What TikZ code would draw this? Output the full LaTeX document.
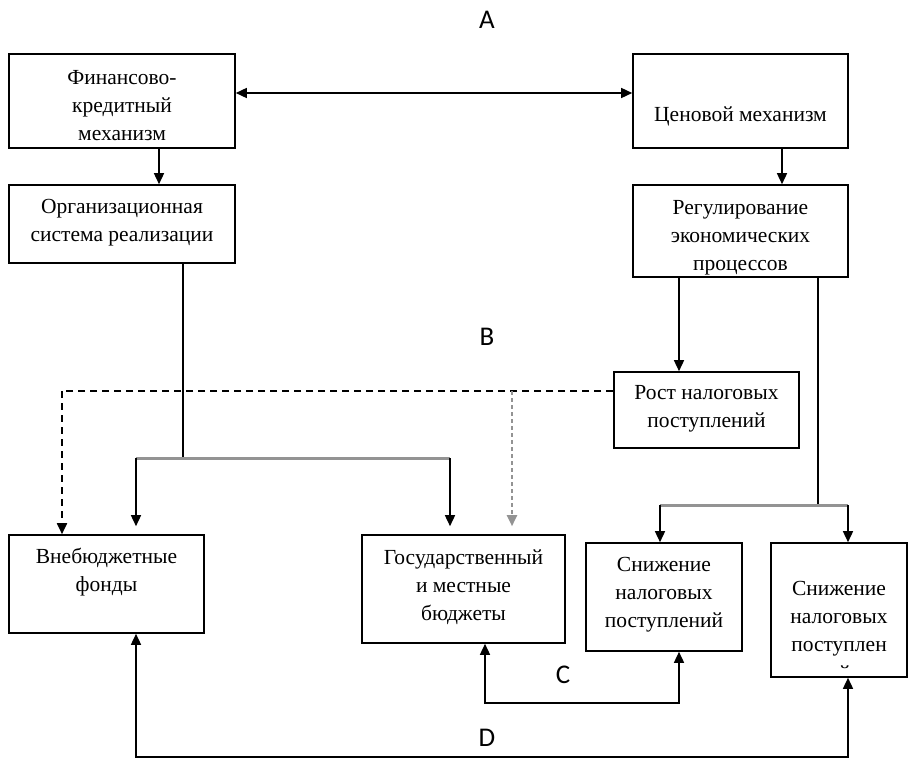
\documentclass[tikz,border=0pt]{standalone}
\usepackage{fontspec}
\setmainfont{Liberation Serif}
\newfontfamily\lettfont{Carlito}
\usetikzlibrary{arrows.meta}
\begin{document}
\begin{tikzpicture}[x=1pt,y=-1pt,
  box/.style={draw, line width=1.6pt, inner sep=0pt},
  txt/.style={align=center, inner sep=0pt, font=\fontsize{21.5}{28}\selectfont},
  lett/.style={inner sep=0pt, font=\lettfont\fontsize{27}{30}\selectfont},
  ln/.style={line width=1.5pt},
  arr/.style={line width=1.5pt, -{Triangle[width=10pt,length=11pt]}},
  arrb/.style={line width=1.5pt, {Triangle[width=10pt,length=11pt]}-{Triangle[width=10pt,length=11pt]}},
  gline/.style={line width=3pt, gray!85},
  dsh/.style={line width=1.8pt, dash pattern=on 7pt off 5pt},
  gdsh/.style={line width=2.2pt, gray!85, dash pattern=on 4pt off 3pt}]
\useasboundingbox (0,0) rectangle (915,765);
% boxes
\node[box, minimum width=226pt, minimum height=94pt] (fin) at (122,101) {};
\node[box, minimum width=226pt, minimum height=78pt] (org) at (122,224) {};
\node[box, minimum width=215pt, minimum height=94pt] (cen) at (740.5,101) {};
\node[box, minimum width=215pt, minimum height=92pt] (reg) at (740.5,231) {};
\node[box, minimum width=185pt, minimum height=76pt] (rost) at (706.5,410) {};
\node[box, minimum width=195pt, minimum height=98pt] (vne) at (106.5,584) {};
\node[box, minimum width=203pt, minimum height=108pt] (gos) at (463.5,589) {};
\node[box, minimum width=156pt, minimum height=108pt] (sn1) at (664,597) {};
\node[box, minimum width=136pt, minimum height=134pt] (sn2) at (839,610) {};
% texts
\node[txt] (tfin) at (122,106) {Финансово-\\кредитный\\механизм};
\node[txt] (torg) at (122,223) {Организационная\\система реализации};
\node[txt] (tcen) at (740.5,116) {Ценовой механизм};
\node[txt] (treg) at (740.5,238) {Регулирование\\экономических\\процессов};
\node[txt] (trost) at (706.5,409) {Рост налоговых\\поступлений};
\node[txt] (tvne) at (106.5,572) {Внебюджетные\\фонды};
\node[txt] (tgos) at (463.5,587) {Государственный\\и местные\\бюджеты};
\node[txt] (tsn1) at (664,595) {Снижение\\налоговых\\поступлений};
\node[txt] (tsn2) at (839,619) {Снижение\\налоговых\\поступлен};
\begin{scope}
\clip (772,658) rectangle (906,669);
\node[txt, anchor=base] (tsn2b) at (839,680) {ий};
\end{scope}
% letters
\node[lett] (A) at (487,20) {A};
\node[lett] (B) at (487,337) {B};
\node[lett] (C) at (563,675) {C};
\node[lett] (D) at (487,738) {D};
% junction coordinates
\coordinate (jo) at (183,458);
\coordinate (jl) at (136,458);
\coordinate (jr) at (450,458);
\coordinate (kr) at (818,505);
\coordinate (kl) at (660,505);
\coordinate (kR) at (848,505);
\coordinate (dl) at (62,391);
\coordinate (dm) at (512,391);
% connectors
\draw[arr] (fin.south -| 159,0) -- (org.north -| 159,0);
\draw[arrb] (fin.east |- 0,93) -- (cen.west |- 0,93);
\draw[arr] (cen.south -| 782,0) -- (reg.north -| 782,0);
\draw[arr] (reg.south -| 679,0) -- (rost.north -| 679,0);
\draw[ln] (reg.south -| kr) -- (kr);
\draw[gline] (kl) -- (kR);
\draw[arr] (kl) -- (sn1.north -| kl);
\draw[arr] (kR) -- (sn2.north -| kR);
\draw[ln] (org.south -| jo) -- (jo);
\draw[gline] (jl) -- (jr);
\draw[arr, shorten >=8pt] (jl) -- (vne.north -| jl);
\draw[arr, shorten >=8pt] (jr) -- (gos.north -| jr);
\draw[dsh] (rost.west |- dl) -- (dl);
\draw[dsh, -{Triangle[width=10pt,length=11pt]}] (dl) -- (vne.north -| dl);
\draw[gdsh, -{Triangle[width=10pt,length=11pt]}, shorten >=8pt] (dm) -- (gos.north -| dm);
\coordinate (c1) at (485,703);
\coordinate (c2) at (679,703);
\draw[ln, {Triangle[width=10pt,length=11pt]}-{Triangle[width=10pt,length=11pt]}] (gos.south -| c1) -- (c1) -- (c2) -- (sn1.south -| c2);
\coordinate (d1) at (136,757);
\coordinate (d2) at (848,757);
\draw[ln, {Triangle[width=10pt,length=11pt]}-{Triangle[width=10pt,length=11pt]}] (vne.south -| d1) -- (d1) -- (d2) -- (sn2.south -| d2);
\end{tikzpicture}
\end{document}
